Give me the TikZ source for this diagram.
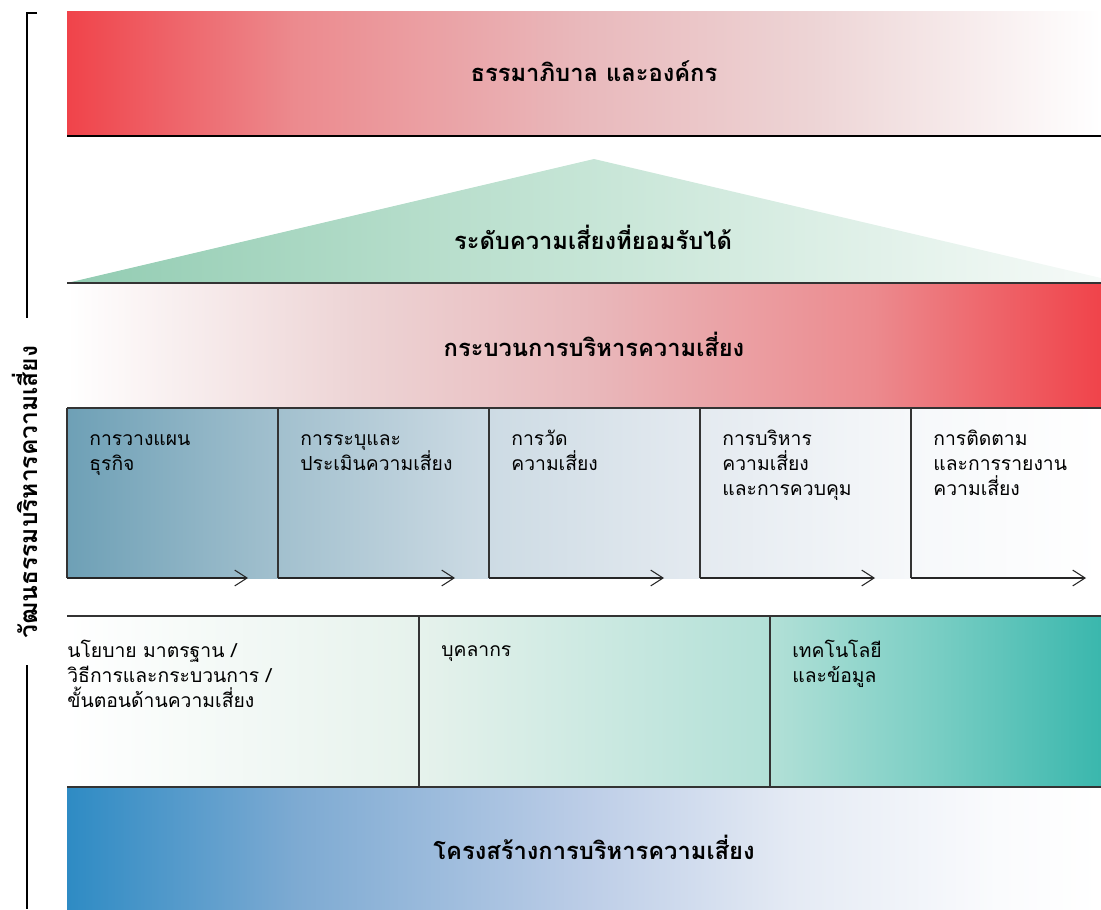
\documentclass[tikz,border=0pt]{standalone}
\usepackage{fontspec}
\setmainfont{Loma}[Script=Thai]
\usetikzlibrary{arrows.meta}

\definecolor{govred}{RGB}{240,67,74}
\definecolor{govsalmon}{RGB}{236,138,142}
\definecolor{govpink}{RGB}{233,185,188}
\definecolor{govpale}{RGB}{237,212,213}
\definecolor{appgreen}{RGB}{146,204,178}
\definecolor{appmid}{RGB}{198,229,214}
\definecolor{apppale}{RGB}{246,250,248}
\definecolor{stepa}{RGB}{110,160,182}
\definecolor{stepb}{RGB}{162,192,206}
\definecolor{stepc}{RGB}{205,219,228}
\definecolor{stepd}{RGB}{228,234,240}
\definecolor{stepe}{RGB}{246,248,250}
\definecolor{basea}{RGB}{230,242,236}
\definecolor{baseb}{RGB}{178,224,215}
\definecolor{basec}{RGB}{125,207,197}
\definecolor{based}{RGB}{58,183,173}
\definecolor{structa}{RGB}{46,139,196}
\definecolor{structb}{RGB}{125,170,210}
\definecolor{structc}{RGB}{188,205,231}
\definecolor{structd}{RGB}{228,234,244}
\definecolor{structe}{RGB}{250,251,253}

\pgfdeclarehorizontalshading{govshade}{100bp}{color(0bp)=(govred); color(25bp)=(govred); color(36bp)=(govsalmon); color(50bp)=(govpink); color(61bp)=(govpale); color(75bp)=(white); color(100bp)=(white)}
\pgfdeclarehorizontalshading{procshade}{100bp}{color(0bp)=(white); color(25bp)=(white); color(39bp)=(govpale); color(50bp)=(govpink); color(64bp)=(govsalmon); color(75bp)=(govred); color(100bp)=(govred)}
\pgfdeclarehorizontalshading{appshade}{100bp}{color(0bp)=(appgreen); color(25bp)=(appgreen); color(50bp)=(appmid); color(75bp)=(apppale); color(100bp)=(apppale)}
\pgfdeclarehorizontalshading{stepshade}{100bp}{color(0bp)=(stepa); color(25bp)=(stepa); color(35.2bp)=(stepb); color(45.4bp)=(stepc); color(55.6bp)=(stepd); color(65.8bp)=(stepe); color(75bp)=(white); color(100bp)=(white)}
\pgfdeclarehorizontalshading{baseshade}{100bp}{color(0bp)=(white); color(25bp)=(white); color(42bp)=(basea); color(59bp)=(baseb); color(66.5bp)=(basec); color(75bp)=(based); color(100bp)=(based)}
\pgfdeclarehorizontalshading{structshade}{100bp}{color(0bp)=(structa); color(25bp)=(structa); color(36bp)=(structb); color(50bp)=(structc); color(60bp)=(structd); color(70bp)=(structe); color(75bp)=(white); color(100bp)=(white)}

\tikzset{
	bandline/.style={draw=black!80, line width=0.75pt},
	titletext/.style={font=\fontsize{13.5}{16}\selectfont\bfseries, inner sep=0pt},
	boxtext/.style={font=\fontsize{11}{14.2}\selectfont, align=left, anchor=base west, inner sep=0pt},
	steparrow/.style={draw=black!85, line width=0.6pt, -{Straight Barb[length=7pt,width=9pt]}},
}

\begin{document}
\begin{tikzpicture}[x=0.02cm, y=-0.02cm]
			%%%%% START %%%%%
			\useasboundingbox (0, 0) rectangle (1101, 909);
			
			% governance band
			\shade[shading=govshade] (67, 12) rectangle (1101, 136);
			\draw[line width=0.8pt] (67, 136) -- (1101, 136);
			\node[titletext] (gov) at (594, 71) {ธรรมาภิบาล และองค์กร};
			
			% risk appetite roof
			\shade[shading=appshade] (67, 283) -- (594, 159) -- (1101, 278) -- (1101, 283) -- cycle;
			\node[titletext] (appetite) at (593, 237) {ระดับความเสี่ยงที่ยอมรับได้};
			
			% process band
			\shade[shading=procshade] (67, 283) rectangle (1101, 408);
			\draw[bandline] (67, 283) -- (1101, 283);
			\node[titletext] (proc) at (594, 344) {กระบวนการบริหารความเสี่ยง};
			
			% process steps
			\shade[shading=stepshade] (67, 408) rectangle (1101, 578);
			\draw[bandline] (67, 408) -- (1101, 408);
			\draw[bandline] (67, 408) -- (67, 578);
			\draw[bandline] (278, 408) -- (278, 578);
			\draw[bandline] (489, 408) -- (489, 578);
			\draw[bandline] (700, 408) -- (700, 578);
			\draw[bandline] (911, 408) -- (911, 578);
			
			\coordinate (s1) at (67, 578);  \coordinate (e1) at (248, 578);
			\coordinate (s2) at (278, 578); \coordinate (e2) at (455, 578);
			\coordinate (s3) at (489, 578); \coordinate (e3) at (664, 578);
			\coordinate (s4) at (700, 578); \coordinate (e4) at (875, 578);
			\coordinate (s5) at (911, 578); \coordinate (e5) at (1086, 578);
			\draw[steparrow] (s1) -- (e1);
			\draw[steparrow] (s2) -- (e2);
			\draw[steparrow] (s3) -- (e3);
			\draw[steparrow] (s4) -- (e4);
			\draw[steparrow] (s5) -- (e5);
			
			% text sits on the baseline of its last line
			\node[boxtext] (step1) at (89, 470) {การวางแผน\\ธุรกิจ};
			\node[boxtext] (step2) at (300, 470) {การระบุและ\\ประเมินความเสี่ยง};
			\node[boxtext] (step3) at (511, 470) {การวัด\\ความเสี่ยง};
			\node[boxtext] (step4) at (722, 495) {การบริหาร\\ความเสี่ยง\\และการควบคุม};
			\node[boxtext] (step5) at (933, 495) {การติดตาม\\และการรายงาน\\ความเสี่ยง};
			
			% foundations
			\shade[shading=baseshade] (67, 616) rectangle (1101, 787);
			\draw[bandline] (67, 616) -- (1101, 616);
			\draw[bandline] (419, 616) -- (419, 787);
			\draw[bandline] (770, 616) -- (770, 787);
			
			\node[boxtext] (base1) at (67, 707) {นโยบาย มาตรฐาน /\\วิธีการและกระบวนการ /\\ขั้นตอนด้านความเสี่ยง};
			\node[boxtext] (base2) at (441, 656) {บุคลากร};
			\node[boxtext] (base3) at (792, 682) {เทคโนโลยี\\และข้อมูล};
			
			% structure band
			\shade[shading=structshade] (67, 787) rectangle (1101, 909);
			\draw[bandline] (67, 787) -- (1101, 787);
			\node[titletext] (struct) at (594, 847) {โครงสร้างการบริหารความเสี่ยง};
			
			% culture bracket
			\draw[line width=0.6pt] (37, 13) -- (27, 13) -- (27, 318);
			\draw[line width=0.6pt] (27, 665) -- (27, 909);
			\node[titletext, font=\fontsize{14}{16}\selectfont\bfseries, rotate=90] (culture) at (25, 492) {วัฒนธรรมบริหารความเสี่ยง};
			
			%%%%% END %%%%%
\end{tikzpicture}
\end{document}
